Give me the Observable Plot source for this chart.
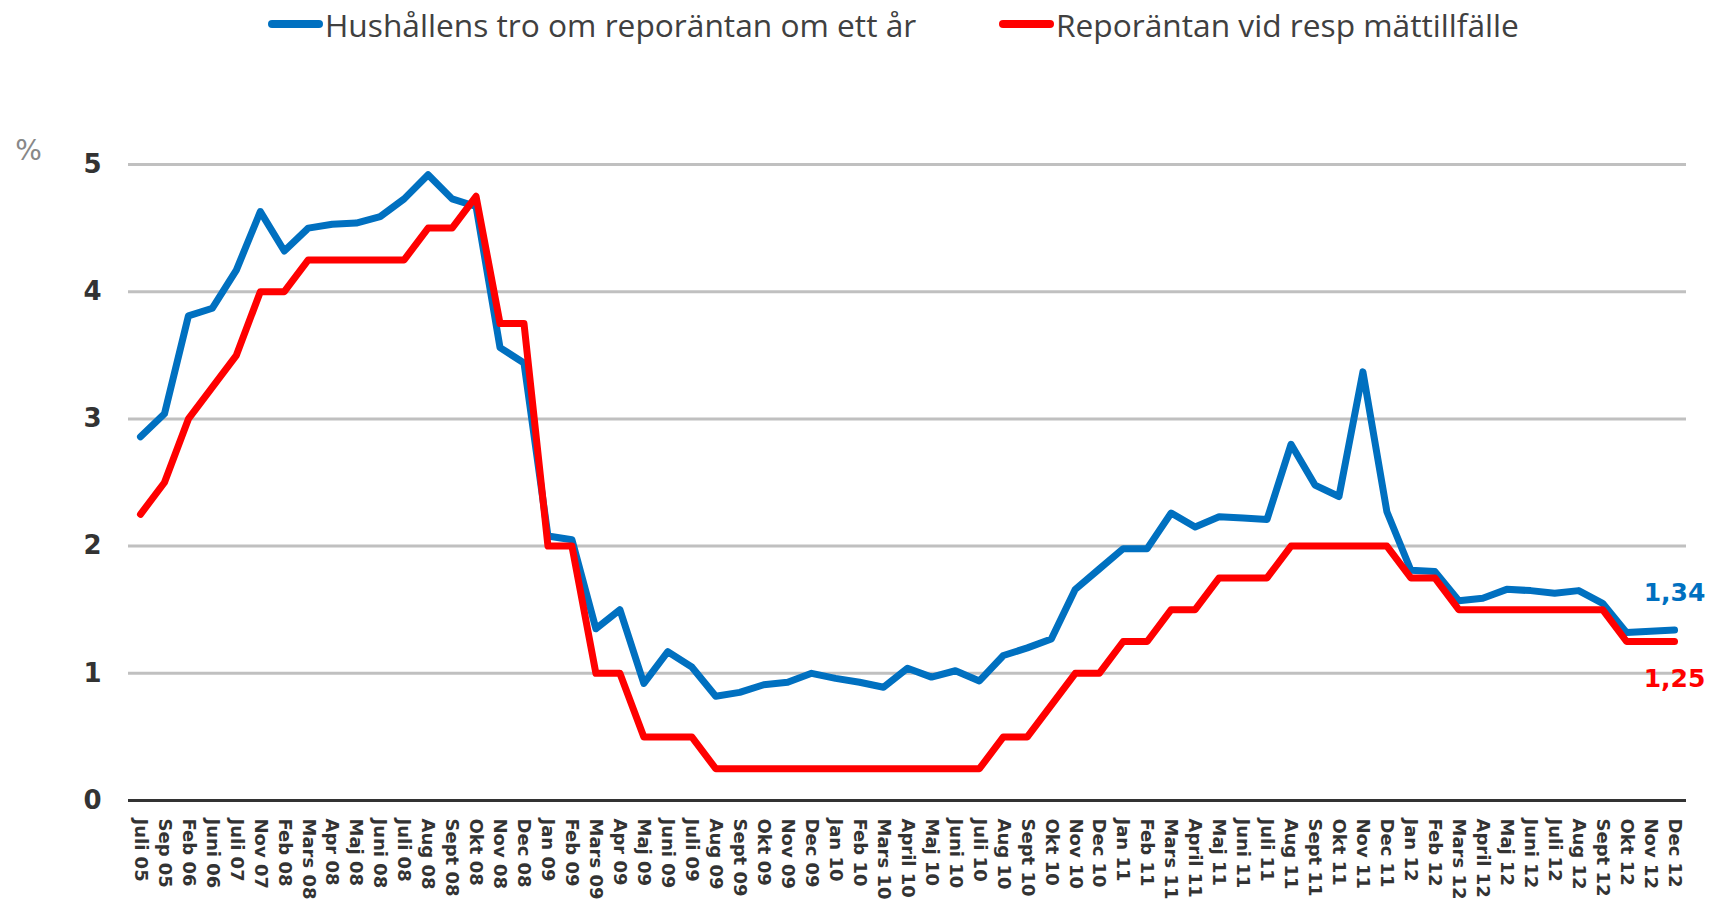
<!DOCTYPE html>
<html><head><meta charset="utf-8">
<script src="https://cdn.jsdelivr.net/npm/d3@7"></script>
<script src="https://cdn.jsdelivr.net/npm/@observablehq/plot@0.6"></script>
<style>
body{margin:0;background:#fff;width:1717px;height:904px;overflow:hidden;}
#legend{position:relative;height:60px;font-family:"Open Sans",sans-serif;font-size:31.7px;color:#404040;}
.item{position:absolute;top:0;height:48px;display:flex;align-items:center;white-space:nowrap;}
.sw{width:55px;height:8px;border-radius:4px;margin-right:2px;}
#chart svg{display:block;}
</style></head>
<body>
<div id="legend"></div>
<div id="chart"></div>
<script>
const months = ["Juli 05","Sep 05","Feb 06","Juni 06","Juli 07","Nov 07","Feb 08","Mars 08","Apr 08","Maj 08","Juni 08","Juli 08","Aug 08","Sept 08","Okt 08","Nov 08","Dec 08","Jan 09","Feb 09","Mars 09","Apr 09","Maj 09","Juni 09","Juli 09","Aug 09","Sept 09","Okt 09","Nov 09","Dec 09","Jan 10","Feb 10","Mars 10","April 10","Maj 10","Juni 10","Juli 10","Aug 10","Sept 10","Okt 10","Nov 10","Dec 10","Jan 11","Feb 11","Mars 11","April 11","Maj 11","Juni 11","Juli 11","Aug 11","Sept 11","Okt 11","Nov 11","Dec 11","Jan 12","Feb 12","Mars 12","April 12","Maj 12","Juni 12","Juli 12","Aug 12","Sept 12","Okt 12","Nov 12","Dec 12"];
const hushall = [2.86,3.04,3.81,3.87,4.17,4.63,4.32,4.50,4.53,4.54,4.59,4.73,4.92,4.73,4.67,3.56,3.44,2.08,2.05,1.35,1.50,0.92,1.17,1.05,0.82,0.85,0.91,0.93,1.00,0.96,0.93,0.89,1.04,0.97,1.02,0.94,1.14,1.20,1.27,1.66,1.82,1.98,1.98,2.26,2.15,2.23,2.22,2.21,2.80,2.48,2.39,3.37,2.27,1.81,1.80,1.57,1.59,1.66,1.65,1.63,1.65,1.55,1.32,1.33,1.34];
const repo = [2.25,2.5,3.0,3.25,3.5,4.0,4.0,4.25,4.25,4.25,4.25,4.25,4.5,4.5,4.75,3.75,3.75,2.0,2.0,1.0,1.0,0.5,0.5,0.5,0.25,0.25,0.25,0.25,0.25,0.25,0.25,0.25,0.25,0.25,0.25,0.25,0.5,0.5,0.75,1.0,1.0,1.25,1.25,1.5,1.5,1.75,1.75,1.75,2.0,2.0,2.0,2.0,2.0,1.75,1.75,1.5,1.5,1.5,1.5,1.5,1.5,1.5,1.25,1.25,1.25];
const seriesNames = ["Hushållens tro om reporäntan om ett år","Reporäntan vid resp mättillfälle"];
const seriesColors = ["#0070C0","#FF0000"];
const yTicks = [0,1,2,3,4,5];

const data = months.map((m,i)=>({m, hus: hushall[i], repo: repo[i]}));
const last = [data[data.length-1]];
const fmt = v => v.toFixed(2).replace(".", ",");

// legend
const lg = document.getElementById("legend");
const lefts = [268, 999];
seriesNames.forEach((n,i)=>{
  const it = document.createElement("div");
  it.className = "item"; it.style.left = lefts[i] + "px";
  it.innerHTML = `<span class="sw" style="background:${seriesColors[i]}"></span><span>${n}</span>`;
  lg.appendChild(it);
});

const chart = Plot.plot({
  width: 1717, height: 844,
  marginLeft: 128, marginRight: 31, marginTop: 104, marginBottom: 104,
  style: {fontFamily: "DejaVu Sans, sans-serif", background: "#fff"},
  x: {type: "point", domain: months, padding: 0.5},
  y: {domain: [0,5]},
  marks: [
    Plot.ruleY([1,2,3,4,5], {stroke: "#c0c0c0", strokeWidth: 3}),
    Plot.ruleY([0], {stroke: "#333", strokeWidth: 3}),
    Plot.axisX({tickRotate: 90, tickSize: 0, tickPadding: 18, fontSize: 18, fontWeight: "bold", fill: "#333", label: null}),
    Plot.axisY({ticks: yTicks, tickFormat: d => String(d), tickSize: 0, tickPadding: 27, fontSize: 26, fontWeight: "bold", fill: "#333", label: null}),
    Plot.text(["%"], {frameAnchor: "top-left", dx: -100, dy: -24, fill: "#888", fontSize: 28, textAnchor: "middle"}),
    Plot.lineY(data, {x: "m", y: "hus", stroke: seriesColors[0], strokeWidth: 7, strokeLinejoin: "round", strokeLinecap: "round"}),
    Plot.lineY(data, {x: "m", y: "repo", stroke: seriesColors[1], strokeWidth: 7, strokeLinejoin: "round", strokeLinecap: "round"}),
    Plot.text(last, {x: "m", y: "hus", text: d => fmt(d.hus), dy: -37, fill: seriesColors[0], fontSize: 25, fontWeight: "bold"}),
    Plot.text(last, {x: "m", y: "repo", text: d => fmt(d.repo), dy: 37, fill: seriesColors[1], fontSize: 25, fontWeight: "bold"})
  ]
});
document.getElementById("chart").appendChild(chart);
</script>
</body></html>
